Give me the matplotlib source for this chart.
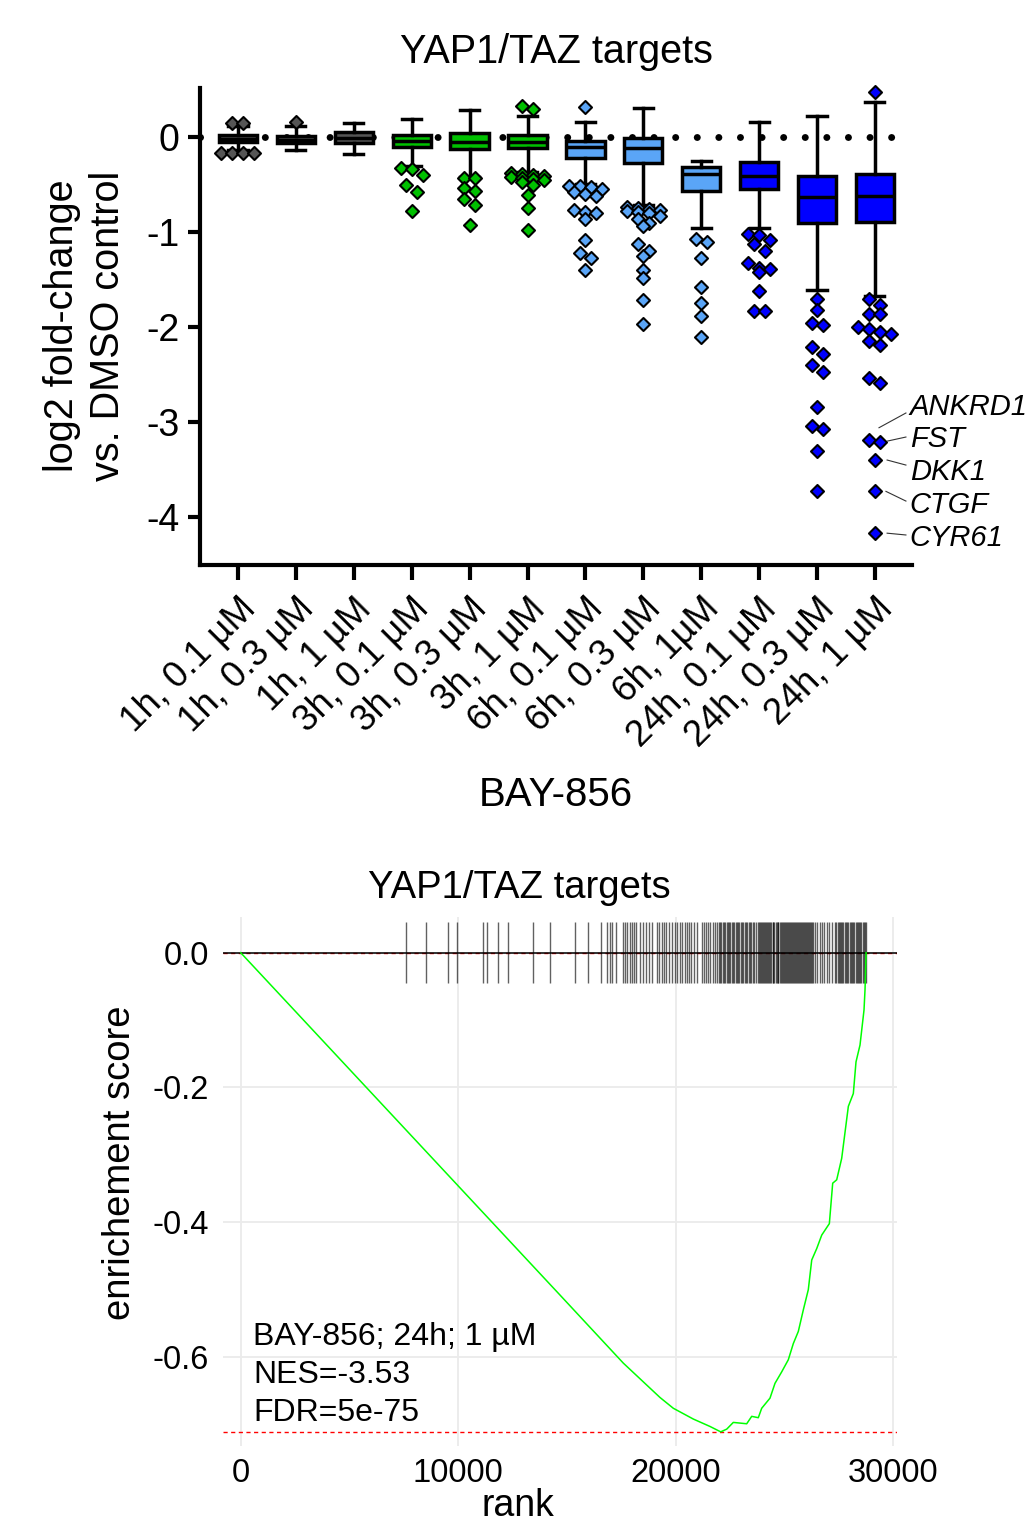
import matplotlib
matplotlib.use("Agg")
import matplotlib.pyplot as plt
import numpy as np

plt.rcParams['font.family'] = ['Liberation Sans', 'DejaVu Sans']
plt.rcParams['axes.unicode_minus'] = False

# ---------------- data: box plot ----------------
conditions = ["1h, 0.1 µM", "1h, 0.3 µM", "1h, 1 µM",
              "3h, 0.1 µM", "3h, 0.3 µM", "3h, 1 µM",
              "6h, 0.1 µM", "6h, 0.3 µM", "6h, 1µM",
              "24h, 0.1 µM", "24h, 0.3 µM", "24h, 1 µM"]
q1 = [-0.05, -0.06, -0.06, -0.10, -0.13, -0.12, -0.22, -0.27, -0.565, -0.55, -0.90, -0.89]
median = [-0.02, -0.03, -0.01, -0.04, -0.05, -0.05, -0.10, -0.12, -0.39, -0.41, -0.635, -0.62]
q3 = [0.02, 0.01, 0.05, 0.02, 0.04, 0.02, -0.04, -0.015, -0.32, -0.26, -0.41, -0.39]
whisker_low = [-0.14, -0.137, -0.18, -0.305, -0.42, -0.365, -0.49, -0.72, -0.96, -0.955, -1.61, -1.67]
whisker_high = [0.12, 0.116, 0.15, 0.19, 0.28, 0.22, 0.155, 0.31, -0.25, 0.16, 0.225, 0.37]
outliers = [
    [0.15, 0.15, -0.17, -0.17, -0.17, -0.17],
    [0.16],
    [],
    [-0.33, -0.34, -0.40, -0.51, -0.58, -0.78],
    [-0.43, -0.435, -0.54, -0.57, -0.65, -0.72, -0.93],
    [0.33, 0.29, -0.38, -0.39, -0.40, -0.41, -0.42, -0.43, -0.44, -0.45, -0.47, -0.51, -0.61, -0.75, -0.98],
    [0.32, -0.52, -0.52, -0.53, -0.55, -0.58, -0.60, -0.62, -0.77, -0.79, -0.80, -0.86, -1.08, -1.22, -1.27, -1.40],
    [-0.74, -0.75, -0.76, -0.77, -0.78, -0.79, -0.80, -0.83, -0.86, -0.90, -0.94,
     -1.13, -1.20, -1.25, -1.40, -1.48, -1.72, -1.97],
    [-1.07, -1.10, -1.27, -1.58, -1.75, -1.88, -2.10],
    [-1.02, -1.03, -1.08, -1.13, -1.20, -1.33, -1.38, -1.39, -1.42, -1.62, -1.83, -1.83],
    [-1.70, -1.82, -1.955, -1.98, -2.21, -2.28, -2.40, -2.47, -2.84, -3.04, -3.07, -3.30, -3.73],
    [0.47, -1.71, -1.77, -1.86, -1.86, -2.00, -2.02, -2.05, -2.07, -2.15, -2.19, -2.54, -2.59,
     -3.19, -3.21, -3.40, -3.73, -4.17],
]
group_colors = ["#555555"] * 3 + ["#00c000"] * 3 + ["#5aa5f7"] * 3 + ["#0000ff"] * 3
gene_labels = ["ANKRD1", "FST", "DKK1", "CTGF", "CYR61"]

# ---------------- data: GSEA ----------------
hit_ranks = [7597, 8516, 9527, 9940, 11135, 11319, 11824, 12284, 13433, 14214, 15363, 15961,
             16558, 16834, 16972, 17064, 17247,
             17592, 17661, 17753, 17868, 17983, 18075, 18167,
             18373, 18511, 18649, 18764, 18902,
             19131, 19246, 19361, 19453, 19568, 19706,
             19821, 19936, 20051, 20166, 20281, 20396, 20511, 20603, 20695, 20833, 20971,
             21199, 21291, 21383, 21498, 21590, 21705, 21797, 21889, 21981,
             22040, 22095, 22160, 22210, 22270, 22330, 22385, 22450, 22500, 22565, 22620, 22690,
             22740, 22800, 22860, 22915, 22985, 23040, 23095, 23160, 23220, 23280, 23340, 23400,
             23460, 23530, 23590, 23660,
             23790, 23835, 23880, 23930, 23975, 24025, 24070, 24110, 24160, 24205, 24250, 24300,
             24345, 24390, 24440, 24485, 24530, 24580, 24625, 24670, 24715, 24765, 24810, 24855,
             24905, 24950, 24995, 25040, 25090, 25135, 25180, 25230, 25275, 25320, 25365, 25415,
             25460, 25505, 25555, 25600, 25645, 25690, 25740, 25785, 25830, 25880, 25925, 25970,
             26015, 26065, 26110, 26155, 26205, 26250, 26295,
             26390, 26505, 26620, 26710, 26825, 26940, 27055, 27170,
             27320, 27370, 27430, 27480, 27540, 27595, 27650, 27700, 27760, 27815, 27870, 27925,
             27980, 28035, 28090, 28140, 28200, 28255, 28310, 28365, 28420, 28470, 28525, 28580,
             28630, 28685, 28730]
es_rank = [0, 14674, 17583, 19269, 19881, 20800, 21567, 22059, 22335, 22638, 22946, 23254,
           23484, 23787, 23943, 24324, 24554, 24862, 25166, 25396, 25626, 25856, 26085, 26242,
           26472, 26702, 27052, 27206, 27390, 27620, 27925, 28154, 28277, 28461, 28645, 28691, 28740]
es_value = [0, -0.508, -0.609, -0.660, -0.676, -0.692, -0.703, -0.711, -0.707, -0.697, -0.698,
            -0.699, -0.688, -0.690, -0.676, -0.661, -0.639, -0.622, -0.604, -0.580, -0.562,
            -0.530, -0.500, -0.456, -0.439, -0.419, -0.402, -0.342, -0.337, -0.305, -0.228,
            -0.209, -0.162, -0.137, -0.085, -0.055, 0.0]
annotation_lines = ["BAY-856; 24h; 1 µM", "NES=-3.53", "FDR=5e-75"]

# ---------------- figure ----------------
W, H = 1031, 1525
fig = plt.figure(figsize=(W / 100, H / 100), dpi=100)

def fx(px):
    return px / W

def fy(py):
    return 1 - py / H

# ===== top: box plot =====
ax = fig.add_axes([fx(200), fy(565), fx(912 - 200), (565 - 88) / H])
ax.set_xlim(-0.656, 11.64)
ax.set_ylim(-4.505, 0.516)
positions = np.arange(len(conditions))

ax.axhline(0, color='black', lw=5.0, linestyle=(0, (0.01, 3.1)),
           dash_capstyle='round', zorder=1)

stats = []
for i in range(len(conditions)):
    stats.append(dict(med=median[i], q1=q1[i], q3=q3[i],
                      whislo=whisker_low[i], whishi=whisker_high[i], fliers=[]))
bp = ax.bxp(stats, positions=positions, widths=0.66, patch_artist=True, showfliers=False,
            boxprops=dict(linewidth=2.5, edgecolor='black'),
            whiskerprops=dict(linewidth=2.5, color='black'),
            capprops=dict(linewidth=2.5, color='black'),
            medianprops=dict(linewidth=2.5, color='black'))
for patch, c in zip(bp['boxes'], group_colors):
    patch.set_facecolor(c)
    patch.set_zorder(2)

fig.canvas.draw()
p0 = ax.transData.transform((0, 0))
p1 = ax.transData.transform((1, 1))
xpx = p1[0] - p0[0]
ypx = p1[1] - p0[1]

def swarm(vals, row_px=7.0, step_px=11.0, max_row=4):
    vals = list(vals)
    order = sorted(range(len(vals)), key=lambda k: -vals[k])
    offs = [0.0] * len(vals)
    rows = []
    for k in order:
        if rows and (vals[rows[-1][0]] - vals[k]) * ypx <= row_px and len(rows[-1]) < max_row:
            rows[-1].append(k)
        else:
            rows.append([k])
    for r in rows:
        n = len(r)
        for j, k in enumerate(r):
            offs[k] = (j - (n - 1) / 2) * step_px / xpx
    return offs

for i, vals in enumerate(outliers):
    if not vals:
        continue
    offs = swarm(vals)
    xs = [positions[i] + o for o in offs]
    ax.scatter(xs, vals, marker='D', s=44, facecolor=group_colors[i],
               edgecolor='black', linewidth=1.5, zorder=4, clip_on=False)

ax.spines['top'].set_visible(False)
ax.spines['right'].set_visible(False)
for s in ['left', 'bottom']:
    ax.spines[s].set_linewidth(3)
ax.set_yticks([0, -1, -2, -3, -4])
ax.set_yticklabels(["0", "-1", "-2", "-3", "-4"])
ax.tick_params(axis='y', length=9, width=3, labelsize=27, pad=6)
ax.tick_params(axis='x', length=11, width=3, labelsize=26.5, pad=8)
ax.set_xticks(positions)
ax.set_xticklabels(conditions, rotation=45, ha='right', va='top', rotation_mode='anchor')

# gene labels (layout positions)
label_y = [-2.842, -3.179, -3.526, -3.874, -4.221]
leader_start = [(11.07, -3.06), (11.22, -3.20), (11.21, -3.40), (11.19, -3.73), (11.21, -4.17)]
leader_end_y = [-2.905, -3.158, -3.453, -3.832, -4.189]
for name, ly, st, ey in zip(gene_labels, label_y, leader_start, leader_end_y):
    ax.plot([st[0], 11.535], [st[1], ey], color='#333333', lw=0.8, clip_on=False, zorder=5)
    ax.text(11.60, ly, name, fontsize=21, style='italic', ha='left', va='center')

fig.text(fx(556), fy(52), "YAP1/TAZ targets", fontsize=28.5, ha='center', va='center')
fig.text(fx(85), fy(326), "log2 fold-change\nvs. DMSO control", fontsize=28.5, rotation=90,
         ha='center', va='center', multialignment='center', linespacing=1.27)
fig.text(fx(556), fy(795), "BAY-856", fontsize=29, ha='center', va='center')

# ===== bottom: enrichment plot =====
bx = fig.add_axes([fx(222.7), fy(1446), fx(897 - 222.7), (1446 - 917) / H])
bx.set_xlim(-827, 30161)
bx.set_ylim(-0.732, 0.053)
for s in bx.spines.values():
    s.set_visible(False)
bx.set_xticks([0, 10000, 20000, 30000])
bx.set_yticks([0.0, -0.2, -0.4, -0.6])
bx.set_yticklabels(["0.0", "-0.2", "-0.4", "-0.6"])
bx.grid(True, color='#ebebeb', lw=1.3)
bx.set_axisbelow(True)
bx.tick_params(length=0, labelsize=23.5)
bx.tick_params(axis='y', pad=10)
bx.tick_params(axis='x', pad=9)

es_min = min(es_value)
bx.axhline(0, color='red', lw=1.0, linestyle=(0, (3.0, 2.5)), zorder=2)
bx.axhline(es_min, color='red', lw=1.0, linestyle=(0, (3.0, 2.5)), zorder=2)
bx.axhline(0, color='black', lw=1.1, zorder=3)
bx.vlines(hit_ranks, -0.045, 0.045, color='black', alpha=0.62, lw=1.0, zorder=3)
bx.plot(es_rank, es_value, color='#00ff00', lw=1.1, zorder=4)

ann_y = [-0.570, -0.627, -0.683]
for t, yy in zip(annotation_lines, ann_y):
    bx.text(565, yy, t, fontsize=23, ha='left', va='center')

fig.text(fx(519), fy(888), "YAP1/TAZ targets", fontsize=27.5, ha='center', va='center')
fig.text(fx(120), fy(1163), "enrichement score", fontsize=27.5, rotation=90,
         ha='center', va='center')
fig.text(fx(518), fy(1524), "rank", fontsize=27, ha='center', va='bottom')

fig.savefig("out.png", dpi=100)
